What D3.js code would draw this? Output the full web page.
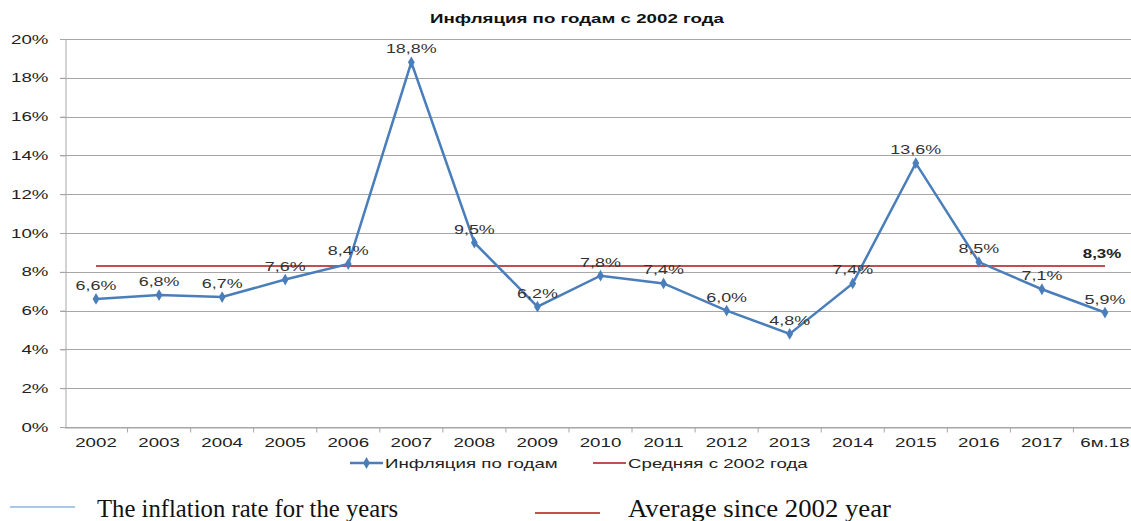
<!DOCTYPE html>
<html><head><meta charset="utf-8">
<script src="https://cdn.jsdelivr.net/npm/d3@7"></script>
<style>body{margin:0;background:#fff;}svg{display:block;}</style>
</head><body>
<svg id="c" width="1131" height="521"></svg>
<script>
const categories = ["2002","2003","2004","2005","2006","2007","2008","2009","2010","2011","2012","2013","2014","2015","2016","2017","6м.18"];
const inflation = [6.6,6.8,6.7,7.6,8.4,18.8,9.5,6.2,7.8,7.4,6.0,4.8,7.4,13.6,8.5,7.1,5.9];
const average = 8.3;
const yTicks = [0,2,4,6,8,10,12,14,16,18,20];
const title = "Инфляция по годам с 2002 года";
const legendRu = ["Инфляция по годам","Средняя с 2002 года"];
const legendEn = ["The inflation rate for the years","Average since 2002 year"];

const svg = d3.select("#c");
const font = "'Liberation Sans', Arial, sans-serif";
const serif = "'Liberation Serif', 'Times New Roman', serif";
const blue = "#4A7EBB", red = "#C0504D", grid = "#a6a6a6";
const pLeft = 64.5, pRight = 1136.5, pTop = 39, pBottom = 427;
const SX = 1.44;

const x = d3.scaleBand().domain(categories).range([pLeft, pRight]);
const y = d3.scaleLinear().domain([0,20]).range([pBottom, pTop]);
const cx = d => x(d) + x.bandwidth()/2;
const fmt = v => d3.format(".1f")(v).replace(".", ",") + "%";

function stext(g, px, py, str, opts = {}) {
  return g.append("text")
    .attr("transform", `translate(${px},${py}) scale(${opts.sx || SX},1)`)
    .attr("text-anchor", opts.anchor || "start")
    .attr("font-family", opts.family || font)
    .attr("font-size", opts.size || 13)
    .attr("font-weight", opts.weight || "normal")
    .attr("fill", opts.fill || "#222")
    .text(str);
}

stext(svg, 577, 23, title, {anchor: "middle", weight: "bold", fill: "#111"});

// gridlines
svg.append("g").selectAll("line").data(yTicks).join("line")
  .attr("x1", 60).attr("x2", 1131).attr("y1", d => Math.round(y(d))+0.5).attr("y2", d => Math.round(y(d))+0.5)
  .attr("stroke", grid).attr("stroke-width", 1);

// y axis
const ya = svg.append("g").attr("transform", `translate(${pLeft+1},0)`)
  .call(d3.axisLeft(y).tickValues(yTicks).tickFormat(d => d + "%").tickSize(5).tickSizeOuter(0));
ya.select(".domain").attr("stroke", grid);
ya.selectAll(".tick line").attr("stroke", grid);
ya.selectAll(".tick text").attr("font-family", font).attr("font-size", 13).attr("fill","#222")
  .attr("x", null).attr("transform", `translate(-17,0) scale(${SX},1)`);

// x axis
const xa = svg.append("g").attr("transform", `translate(0,${Math.round(pBottom)+0.5})`)
  .call(d3.axisBottom(x).tickSize(0).tickSizeOuter(0));
xa.select(".domain").attr("stroke", grid);
xa.selectAll(".tick text").attr("font-family", font).attr("font-size", 13).attr("fill","#222")
  .attr("y", null).attr("dy", null).attr("transform", `translate(0,19) scale(${SX},1)`);
xa.selectAll("line.sep").data(categories.slice(1)).join("line").attr("class","sep")
  .attr("x1", d => x(d)).attr("x2", d => x(d)).attr("y1", 0).attr("y2", 5).attr("stroke", grid);

// average line
svg.append("line").attr("x1", cx(categories[0])).attr("x2", cx(categories[categories.length-1]))
  .attr("y1", y(average)).attr("y2", y(average)).attr("stroke", red).attr("stroke-width", 2);

// inflation line
const line = d3.line().x((d,i) => cx(categories[i])).y(d => y(d));
svg.append("path").datum(inflation).attr("d", line).attr("fill","none").attr("stroke", blue).attr("stroke-width", 2.5);
svg.append("g").selectAll("path").data(inflation).join("path")
  .attr("transform", (d,i) => `translate(${cx(categories[i])},${y(d)})`)
  .attr("d", d3.symbol(d3.symbolDiamond, 40)).attr("fill", blue);

// data labels
const lbl = svg.append("g");
inflation.forEach((v,i) => stext(lbl, cx(categories[i]), y(v) - 9, fmt(v), {anchor: "middle", fill: "#333", sx: 1.38}));

stext(svg, 1102, 258, fmt(average), {anchor: "middle", weight: "bold", fill: "#222", sx: 1.3});

// legend (ru)
const lg = svg.append("g");
lg.append("line").attr("x1", 350).attr("x2", 383).attr("y1", 463).attr("y2", 463).attr("stroke", blue).attr("stroke-width", 2.5);
lg.append("path").attr("transform","translate(366.5,463)").attr("d", d3.symbol(d3.symbolDiamond, 40)).attr("fill", blue);
stext(lg, 385, 468, legendRu[0]);
lg.append("line").attr("x1", 593).attr("x2", 626).attr("y1", 463).attr("y2", 463).attr("stroke", red).attr("stroke-width", 2);
stext(lg, 628, 468, legendRu[1]);

// legend (en)
const le = svg.append("g");
le.append("line").attr("x1", 10).attr("x2", 75).attr("y1", 507).attr("y2", 507).attr("stroke", "#8fb4e3").attr("stroke-width", 1.5);
le.append("text").attr("x", 97).attr("y", 517).attr("font-family", serif).attr("font-size", 25).attr("fill","#111")
  .attr("textLength", 301).attr("lengthAdjust", "spacingAndGlyphs").text(legendEn[0]);
le.append("line").attr("x1", 535).attr("x2", 600).attr("y1", 513).attr("y2", 513).attr("stroke", red).attr("stroke-width", 2);
le.append("text").attr("x", 628).attr("y", 517).attr("font-family", serif).attr("font-size", 25).attr("fill","#111")
  .attr("textLength", 263).attr("lengthAdjust", "spacingAndGlyphs").text(legendEn[1]);
</script>
</body></html>
